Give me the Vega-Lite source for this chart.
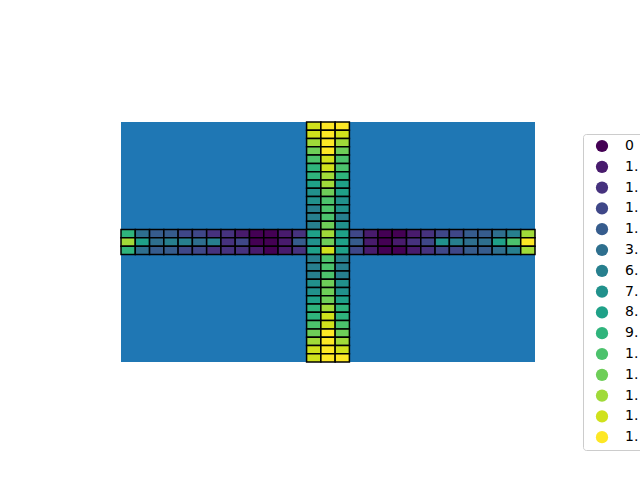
{
  "$schema": "https://vega.github.io/schema/vega-lite/v6.json",
  "autosize": {"type": "none"},
  "width": 414,
  "height": 240,
  "padding": {"left": 121, "top": 122, "right": 105, "bottom": 118},
  "background": "white",
  "view": {"fill": "#1f77b4", "stroke": null},
  "data": {"values": [
    {"r":0,"c":13,"v":13},{"r":0,"c":14,"v":14},{"r":0,"c":15,"v":14},
    {"r":1,"c":13,"v":13},{"r":1,"c":14,"v":14},{"r":1,"c":15,"v":13},
    {"r":2,"c":13,"v":12},{"r":2,"c":14,"v":14},{"r":2,"c":15,"v":12},
    {"r":3,"c":13,"v":11},{"r":3,"c":14,"v":14},{"r":3,"c":15,"v":11},
    {"r":4,"c":13,"v":10},{"r":4,"c":14,"v":13},{"r":4,"c":15,"v":10},
    {"r":5,"c":13,"v":9},{"r":5,"c":14,"v":13},{"r":5,"c":15,"v":10},
    {"r":6,"c":13,"v":9},{"r":6,"c":14,"v":12},{"r":6,"c":15,"v":9},
    {"r":7,"c":13,"v":8},{"r":7,"c":14,"v":12},{"r":7,"c":15,"v":8},
    {"r":8,"c":13,"v":7},{"r":8,"c":14,"v":11},{"r":8,"c":15,"v":8},
    {"r":9,"c":13,"v":7},{"r":9,"c":14,"v":10},{"r":9,"c":15,"v":7},
    {"r":10,"c":13,"v":6},{"r":10,"c":14,"v":10},{"r":10,"c":15,"v":7},
    {"r":11,"c":13,"v":6},{"r":11,"c":14,"v":10},{"r":11,"c":15,"v":6},
    {"r":12,"c":13,"v":6},{"r":12,"c":14,"v":11},{"r":12,"c":15,"v":7},
    {"r":13,"c":0,"v":9},{"r":13,"c":1,"v":5},{"r":13,"c":2,"v":4},{"r":13,"c":3,"v":4},{"r":13,"c":4,"v":3},{"r":13,"c":5,"v":3},{"r":13,"c":6,"v":2},{"r":13,"c":7,"v":2},{"r":13,"c":8,"v":1},{"r":13,"c":9,"v":0},{"r":13,"c":10,"v":0},{"r":13,"c":11,"v":1},{"r":13,"c":12,"v":2},
    {"r":13,"c":13,"v":8},{"r":13,"c":14,"v":12},{"r":13,"c":15,"v":8},
    {"r":13,"c":16,"v":3},{"r":13,"c":17,"v":1},{"r":13,"c":18,"v":0},{"r":13,"c":19,"v":0},{"r":13,"c":20,"v":1},{"r":13,"c":21,"v":2},{"r":13,"c":22,"v":3},{"r":13,"c":23,"v":3},{"r":13,"c":24,"v":4},{"r":13,"c":25,"v":4},{"r":13,"c":26,"v":5},{"r":13,"c":27,"v":6},{"r":13,"c":28,"v":12},
    {"r":14,"c":0,"v":12},{"r":14,"c":1,"v":8},{"r":14,"c":2,"v":5},{"r":14,"c":3,"v":6},{"r":14,"c":4,"v":6},{"r":14,"c":5,"v":5},{"r":14,"c":6,"v":6},{"r":14,"c":7,"v":2},{"r":14,"c":8,"v":3},{"r":14,"c":9,"v":0},{"r":14,"c":10,"v":0},{"r":14,"c":11,"v":1},{"r":14,"c":12,"v":4},
    {"r":14,"c":13,"v":7},{"r":14,"c":14,"v":11},{"r":14,"c":15,"v":8},
    {"r":14,"c":16,"v":4},{"r":14,"c":17,"v":1},{"r":14,"c":18,"v":0},{"r":14,"c":19,"v":1},{"r":14,"c":20,"v":2},{"r":14,"c":21,"v":3},{"r":14,"c":22,"v":7},{"r":14,"c":23,"v":6},{"r":14,"c":24,"v":5},{"r":14,"c":25,"v":5},{"r":14,"c":26,"v":8},{"r":14,"c":27,"v":10},{"r":14,"c":28,"v":14},
    {"r":15,"c":0,"v":9},{"r":15,"c":1,"v":5},{"r":15,"c":2,"v":4},{"r":15,"c":3,"v":4},{"r":15,"c":4,"v":3},{"r":15,"c":5,"v":3},{"r":15,"c":6,"v":2},{"r":15,"c":7,"v":2},{"r":15,"c":8,"v":2},{"r":15,"c":9,"v":1},{"r":15,"c":10,"v":0},{"r":15,"c":11,"v":1},{"r":15,"c":12,"v":2},
    {"r":15,"c":13,"v":8},{"r":15,"c":14,"v":13},{"r":15,"c":15,"v":8},
    {"r":15,"c":16,"v":3},{"r":15,"c":17,"v":1},{"r":15,"c":18,"v":0},{"r":15,"c":19,"v":0},{"r":15,"c":20,"v":1},{"r":15,"c":21,"v":2},{"r":15,"c":22,"v":3},{"r":15,"c":23,"v":3},{"r":15,"c":24,"v":4},{"r":15,"c":25,"v":4},{"r":15,"c":26,"v":5},{"r":15,"c":27,"v":6},{"r":15,"c":28,"v":12},
    {"r":16,"c":13,"v":6},{"r":16,"c":14,"v":10},{"r":16,"c":15,"v":6},
    {"r":17,"c":13,"v":6},{"r":17,"c":14,"v":10},{"r":17,"c":15,"v":6},
    {"r":18,"c":13,"v":6},{"r":18,"c":14,"v":10},{"r":18,"c":15,"v":6},
    {"r":19,"c":13,"v":7},{"r":19,"c":14,"v":11},{"r":19,"c":15,"v":7},
    {"r":20,"c":13,"v":7},{"r":20,"c":14,"v":11},{"r":20,"c":15,"v":7},
    {"r":21,"c":13,"v":8},{"r":21,"c":14,"v":11},{"r":21,"c":15,"v":8},
    {"r":22,"c":13,"v":9},{"r":22,"c":14,"v":12},{"r":22,"c":15,"v":9},
    {"r":23,"c":13,"v":9},{"r":23,"c":14,"v":13},{"r":23,"c":15,"v":9},
    {"r":24,"c":13,"v":10},{"r":24,"c":14,"v":13},{"r":24,"c":15,"v":10},
    {"r":25,"c":13,"v":11},{"r":25,"c":14,"v":14},{"r":25,"c":15,"v":11},
    {"r":26,"c":13,"v":12},{"r":26,"c":14,"v":14},{"r":26,"c":15,"v":12},
    {"r":27,"c":13,"v":13},{"r":27,"c":14,"v":14},{"r":27,"c":15,"v":13},
    {"r":28,"c":13,"v":13},{"r":28,"c":14,"v":14},{"r":28,"c":15,"v":14}
  ]},
  "transform": [
    {"calculate": "datum.c + 1", "as": "c2"},
    {"calculate": "datum.r + 1", "as": "r2"}
  ],
  "mark": {"type": "rect", "stroke": "black", "strokeWidth": 1.5, "opacity": 1},
  "encoding": {
    "x": {"field": "c", "type": "quantitative", "scale": {"domain": [0, 29], "nice": false, "zero": false}, "axis": null},
    "x2": {"field": "c2"},
    "y": {"field": "r", "type": "quantitative", "scale": {"domain": [29, 0], "nice": false, "zero": false}, "axis": null},
    "y2": {"field": "r2"},
    "color": {
      "field": "v",
      "type": "ordinal",
      "scale": {
        "domain": [0,1,2,3,4,5,6,7,8,9,10,11,12,13,14],
        "range": ["#440154","#481b6d","#46327e","#3f4788","#365c8d","#2e6f8e","#277f8e","#21918c","#1fa188","#2fb47c","#4cc26c","#6ece58","#a0da39","#d0e11c","#fde725"]
      },
      "legend": {
        "title": null,
        "orient": "none",
        "legendX": 462,
        "legendY": 12,
        "symbolType": "circle",
        "symbolSize": 150,
        "symbolStrokeWidth": 0,
        "symbolOpacity": 1,
        "symbolOffset": 7,
        "labelOffset": 16,
        "labelFont": "DejaVu Sans",
        "labelFontSize": 14,
        "labelColor": "black",
        "rowPadding": 6.8,
        "padding": 5,
        "strokeColor": "#cccccc",
        "cornerRadius": 3,
        "fillColor": "white",
        "labelExpr": "['0','1.','1.','1.','1.','3.','6.','7.','8.','9.','1.','1.','1.','1.','1.'][datum.value]"
      }
    }
  }
}
